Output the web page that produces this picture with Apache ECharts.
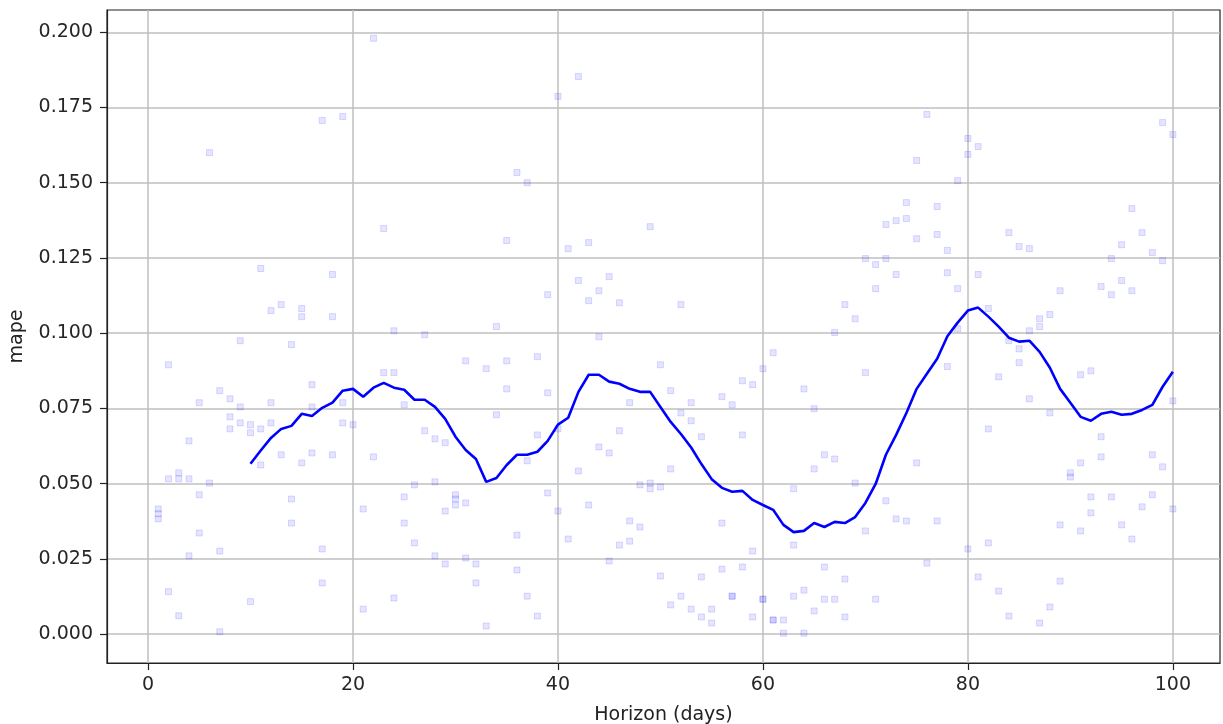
<!DOCTYPE html>
<html><head><meta charset="utf-8">
<script src="https://cdn.jsdelivr.net/npm/echarts@6.0.0/dist/echarts.min.js"></script>
<style>html,body{margin:0;padding:0;background:#fff}#c{width:1223px;height:724px}</style>
</head><body><div id="c"></div>
<script>
const xTicks = [0, 20, 40, 60, 80, 100];
const yTicks = [0, 0.025, 0.05, 0.075, 0.1, 0.125, 0.15, 0.175, 0.2];

const horizonDays = [1,2,3,4,5,6,7,8,9,10,11,12,13,14,15,16,17,18,19,20,
  21,22,23,24,25,26,27,28,29,30,31,32,33,34,35,36,37,38,39,40,
  41,42,43,44,45,46,47,48,49,50,51,52,53,54,55,56,57,58,59,60,
  61,62,63,64,65,66,67,68,69,70,71,72,73,74,75,76,77,78,79,80,
  81,82,83,84,85,86,87,88,89,90,91,92,93,94,95,96,97,98,99,100];

const pointMapeByDay = [
  [0.0416,0.0400,0.0383],[0.0895,0.0516,0.0141],[0.0536,0.0516,0.0061],[0.0642,0.0516,0.0260],
  [0.0769,0.0463,0.0336],[0.1600,0.0502],[0.0809,0.0276,0.0008],[0.0782,0.0722,0.0682],
  [0.0975,0.0755,0.0702],[0.0696,0.0669,0.0108],[0.1215,0.0682,0.0562],[0.1075,0.0769,0.0702],
  [0.1095,0.0596],[0.0962,0.0449,0.0369],[0.1082,0.1055,0.0569],[0.0829,0.0755,0.0602],
  [0.1707,0.0283,0.0170],[0.1195,0.1055,0.0596],[0.1720,0.0769,0.0702],[0.0696],
  [0.0416,0.0083],[0.1980,0.0589],[0.1348,0.0869],[0.1008,0.0869,0.0120],
  [0.0762,0.0456,0.0369],[0.0496,0.0303],[0.0995,0.0676],[0.0649,0.0506,0.0260],
  [0.0636,0.0409,0.0233],[0.0463,0.0449,0.0429],[0.0908,0.0436,0.0253],[0.0233,0.0170],
  [0.0882,0.0027],[0.1022,0.0729],[0.1308,0.0908,0.0815],[0.1534,0.0329,0.0213],
  [0.1500,0.0576,0.0126],[0.0922,0.0662,0.0060],[0.1128,0.0802,0.0469],[0.1787,0.0682,0.0409],
  [0.1281,0.0316],[0.1853,0.1175,0.0542],[0.1301,0.1108,0.0429],[0.1141,0.0988,0.0622],
  [0.1188,0.0602,0.0243],[0.1101,0.0676,0.0296],[0.0769,0.0376,0.0309],[0.0496,0.0356],
  [0.1354,0.0502,0.0483],[0.0895,0.0489,0.0193],[0.0809,0.0549,0.0097],[0.1095,0.0735,0.0126],
  [0.0769,0.0709,0.0083],[0.0656,0.0190,0.0057],[0.0083,0.0037],[0.0789,0.0369,0.0216],
  [0.0762,0.0126,0.0126],[0.0842,0.0662,0.0223],[0.0829,0.0276,0.0057],[0.0882,0.0116,0.0116],
  [0.0935,0.0047,0.0047],[0.0047,0.0003],[0.0483,0.0296,0.0126],[0.0815,0.0146,0.0003],
  [0.0749,0.0549,0.0077],[0.0596,0.0223,0.0116],[0.1002,0.0582,0.0116],[0.1095,0.0183,0.0057],
  [0.1048,0.0502],[0.1248,0.0869,0.0343],[0.1228,0.1148,0.0116],[0.1361,0.1248,0.0443],
  [0.1374,0.1195,0.0383],[0.1434,0.1381,0.0376],[0.1574,0.1314,0.0569],[0.1727,0.0236],
  [0.1421,0.1328,0.0376],[0.1275,0.1201,0.0889],[0.1507,0.1148,0.1015],[0.1647,0.1594,0.0283],
  [0.1620,0.1195,0.0190],[0.1082,0.0682,0.0303],[0.0855,0.0143],[0.1334,0.0975,0.0060],
  [0.1288,0.0948,0.0902],[0.1281,0.1008,0.0782],[0.1048,0.1022,0.0037],[0.1062,0.0735,0.0090],
  [0.1141,0.0363,0.0176],[0.0536,0.0522],[0.0862,0.0569,0.0343],[0.0875,0.0456,0.0403],
  [0.1155,0.0656,0.0589],[0.1248,0.1128,0.0456],[0.1294,0.1175,0.0363],[0.1414,0.1141,0.0316],
  [0.1334,0.0423],[0.1268,0.0596,0.0463],[0.1700,0.1241,0.0556],[0.1660,0.0775,0.0416]
];

const lineDays = [10,11,12,13,14,15,16,17,18,19,20,21,22,23,24,25,26,27,28,29,30,
  31,32,33,34,35,36,37,38,39,40,41,42,43,44,45,46,47,48,49,50,
  51,52,53,54,55,56,57,58,59,60,61,62,63,64,65,66,67,68,69,70,
  71,72,73,74,75,76,77,78,79,80,81,82,83,84,85,86,87,88,89,90,
  91,92,93,94,95,96,97,98,99,100];
const lineMape = [0.0566,0.0610,0.0652,0.0682,0.0692,0.0732,0.0725,0.0752,0.0769,0.0809,0.0815,
  0.0789,0.0819,0.0835,0.0819,0.0812,0.0779,0.0779,0.0755,0.0715,0.0656,
  0.0612,0.0582,0.0506,0.0519,0.0562,0.0596,0.0596,0.0606,0.0642,0.0696,
  0.0719,0.0805,0.0862,0.0862,0.0839,0.0832,0.0815,0.0805,0.0805,0.0755,
  0.0705,0.0665,0.0620,0.0565,0.0515,0.0486,0.0473,0.0476,0.0446,0.0429,
  0.0413,0.0363,0.0339,0.0343,0.0369,0.0356,0.0373,0.0369,0.0389,0.0436,
  0.0499,0.0596,0.0662,0.0735,0.0815,0.0865,0.0915,0.0990,0.1035,0.1075,
  0.1085,0.1055,0.1022,0.0985,0.0972,0.0975,0.0938,0.0885,0.0815,0.0769,
  0.0722,0.0709,0.0732,0.0739,0.0729,0.0732,0.0745,0.0762,0.0822,0.0872];

const scatterData = [];
horizonDays.forEach((d, i) => pointMapeByDay[i].forEach(v => scatterData.push([d, v])));
const lineData = lineDays.map((d, i) => [d, lineMape[i]]);

const font = 'DejaVu Sans';
const chart = echarts.init(document.getElementById('c'), null, {renderer: 'canvas'});
chart.setOption({
  animation: false,
  backgroundColor: '#fff',
  grid: {left: 107, right: 3, top: 10, bottom: 61, show: true, borderColor: '#222', borderWidth: 1.2,
         backgroundColor: 'transparent', containLabel: false, outerBoundsMode: 'none'},
  xAxis: {
    type: 'value', min: -4, max: 104.6,
    name: 'Horizon (days)', nameLocation: 'middle', nameGap: 43,
    nameTextStyle: {fontFamily: font, fontSize: 19, color: '#222'},
    axisLine: {show: true, onZero: false, lineStyle: {color: '#222', width: 1.2}},
    axisTick: {show: true, customValues: xTicks, length: 7, lineStyle: {color: '#222', width: 1.2}},
    axisLabel: {customValues: xTicks, margin: 13, fontFamily: font, fontSize: 19, color: '#262626'},
    splitLine: {show: true, lineStyle: {color: '#bfbfbf', width: 1.5}}
  },
  yAxis: {
    type: 'value', min: -0.0096, max: 0.2074,
    name: 'mape', nameLocation: 'middle', nameGap: 80, nameRotate: 90,
    nameTextStyle: {fontFamily: font, fontSize: 19, color: '#222'},
    axisLine: {show: true, onZero: false, lineStyle: {color: '#222', width: 1.2}},
    axisTick: {show: true, customValues: yTicks, length: 7, lineStyle: {color: '#222', width: 1.2}},
    axisLabel: {customValues: yTicks, margin: 14, fontFamily: font, fontSize: 19, color: '#262626',
      formatter: v => v.toFixed(3)},
    splitLine: {show: true, lineStyle: {color: '#bfbfbf', width: 1.5}}
  },
  series: [
    {type: 'scatter', data: scatterData, symbol: 'rect', symbolSize: 6,
     itemStyle: {color: 'rgba(0,0,255,0.13)', borderColor: 'rgba(0,0,255,0.17)', borderWidth: 1},
     silent: true, z: 2},
    {type: 'line', data: lineData, showSymbol: false, symbol: 'none',
     lineStyle: {color: '#0000ff', width: 2.6}, z: 3, silent: true}
  ]
});
</script></body></html>
